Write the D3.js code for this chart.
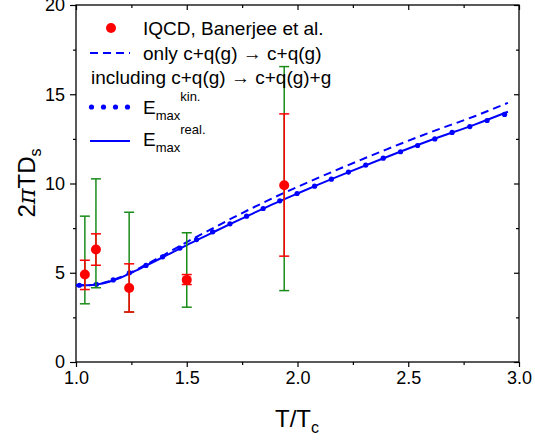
<!DOCTYPE html>
<meta charset="utf-8">

<!-- Load d3.js -->
<script src="https://d3js.org/d3.v7.min.js"></script>

<style>
  body { margin: 0; background: #fff; }
  text { font-family: Arial, "Liberation Sans", Helvetica, sans-serif; }
</style>

<!-- Create a div where the graph will take place -->
<div id="chart"></div>

<script>
// ---- data ----
// IQCD points (Banerjee et al.)
var lqcdT    = [1.04, 1.09, 1.24, 1.50, 1.94];
var lqcdVal  = [4.90, 6.30, 4.15, 4.60, 9.90];
var statLo   = [4.06, 5.42, 2.80, 4.34, 5.93];
var statHi   = [5.70, 7.18, 5.50, 4.90, 13.90];
var sysLo    = [3.26, 4.16, 2.80, 3.07, 4.00];
var sysHi    = [8.17, 10.26, 8.39, 7.24, 16.55];

// curves
var curveT      = [1.0, 1.05, 1.1, 1.15, 1.2, 1.25, 1.3, 1.4, 1.5, 1.6, 1.7, 1.8, 1.9, 2.0, 2.2, 2.4, 2.6, 2.8, 2.95];
var elasticVal  = [4.3, 4.3, 4.37, 4.52, 4.75, 5.03, 5.35, 6.02, 6.72, 7.37, 8.03, 8.65, 9.25, 9.81, 10.88, 11.9, 12.87, 13.77, 14.52];
var realVal     = [4.3, 4.3, 4.36, 4.5, 4.72, 5.0, 5.3, 5.92, 6.55, 7.15, 7.75, 8.33, 8.9, 9.44, 10.48, 11.47, 12.42, 13.3, 14.02];
var kinT        = [1.015, 1.092, 1.168, 1.241, 1.316, 1.391, 1.469, 1.544, 1.617, 1.695, 1.77, 1.845, 1.92, 1.998,
                   2.077, 2.153, 2.23, 2.308, 2.387, 2.465, 2.542, 2.62, 2.698, 2.778, 2.856, 2.935];
var kinVal      = [4.3, 4.35, 4.6, 5.0, 5.41, 5.89, 6.38, 6.86, 7.29, 7.74, 8.17, 8.6, 9.03, 9.44,
                   9.85, 10.24, 10.64, 11.03, 11.42, 11.78, 12.13, 12.5, 12.86, 13.19, 13.53, 13.87];

// axis ticks
var xTicks = [1.0, 1.5, 2.0, 2.5, 3.0];
var xMinor = [1.25, 1.75, 2.25, 2.75];
var yTicks = [0, 5, 10, 15, 20];
var yMinor = [2.5, 7.5, 12.5, 17.5];

var W = 535, H = 442;
var svg = d3.select("#chart").append("svg")
    .attr("width", W)
    .attr("height", H);

var x = d3.scaleLinear().domain([1, 3]).range([76, 519]);
var y = d3.scaleLinear().domain([0, 20]).range([362, 5]);

var blue = "#0000ff", red = "#ff0000", green = "#1a8c1a";

// ---- axes ----
function styleAxis(g) {
  g.select(".domain").remove();
  g.selectAll("line").attr("stroke", "#000").attr("stroke-width", 1.2);
  g.selectAll("text").attr("font-size", 18).attr("fill", "#000");
}

// bottom
svg.append("g").attr("transform", "translate(0," + y(0) + ")")
  .call(d3.axisBottom(x).tickValues(xTicks).tickFormat(d3.format(".1f")).tickSize(5).tickPadding(4))
  .call(styleAxis);
svg.append("g").attr("transform", "translate(0," + y(0) + ")")
  .call(d3.axisBottom(x).tickValues(xMinor).tickFormat("").tickSize(3))
  .call(styleAxis);
// left
svg.append("g").attr("transform", "translate(" + x(1) + ",0)")
  .call(d3.axisLeft(y).tickValues(yTicks).tickFormat(d3.format("d")).tickSize(6).tickPadding(5))
  .call(styleAxis);
svg.append("g").attr("transform", "translate(" + x(1) + ",0)")
  .call(d3.axisLeft(y).tickValues(yMinor).tickFormat("").tickSize(3))
  .call(styleAxis);
// top (inward)
svg.append("g").attr("transform", "translate(0," + y(20) + ")")
  .call(d3.axisBottom(x).tickValues(xTicks).tickFormat("").tickSize(5))
  .call(styleAxis);
svg.append("g").attr("transform", "translate(0," + y(20) + ")")
  .call(d3.axisBottom(x).tickValues(xMinor).tickFormat("").tickSize(3))
  .call(styleAxis);
// right (inward)
svg.append("g").attr("transform", "translate(" + x(3) + ",0)")
  .call(d3.axisLeft(y).tickValues(yTicks).tickFormat("").tickSize(5))
  .call(styleAxis);
svg.append("g").attr("transform", "translate(" + x(3) + ",0)")
  .call(d3.axisLeft(y).tickValues(yMinor).tickFormat("").tickSize(3))
  .call(styleAxis);

// frame
svg.append("rect")
  .attr("x", x(1)).attr("y", y(20))
  .attr("width", x(3) - x(1)).attr("height", y(0) - y(20))
  .attr("fill", "none").attr("stroke", "#000").attr("stroke-width", 1.3);

// ---- axis titles ----
svg.append("text")
  .attr("x", 297).attr("y", 427)
  .attr("text-anchor", "middle")
  .attr("font-size", 24)
  .text("T/T")
  .append("tspan").attr("font-size", 16).attr("dy", 6).text("c");

var yl = svg.append("text")
  .attr("transform", "translate(35,183) rotate(-90)")
  .attr("text-anchor", "middle")
  .attr("font-size", 24);
yl.append("tspan").text("2");
yl.append("tspan").attr("font-style", "italic").attr("font-family", "'DejaVu Serif', serif").text("π");
yl.append("tspan").text("TD");
yl.append("tspan").attr("font-size", 16).attr("dy", 6).text("s");

// ---- curves ----
var line = d3.line()
  .x(function(d) { return x(d[0]); })
  .y(function(d) { return y(d[1]); })
  .curve(d3.curveMonotoneX);

svg.append("path")
  .datum(d3.zip(curveT, elasticVal))
  .attr("d", line)
  .attr("fill", "none").attr("stroke", blue).attr("stroke-width", 2)
  .attr("stroke-dasharray", "8,5");

svg.append("path")
  .datum(d3.zip(curveT, realVal))
  .attr("d", line)
  .attr("fill", "none").attr("stroke", blue).attr("stroke-width", 2);

svg.selectAll(".kin")
  .data(d3.zip(kinT, kinVal))
  .enter().append("circle")
    .attr("class", "kin")
    .attr("cx", function(d) { return x(d[0]); })
    .attr("cy", function(d) { return y(d[1]); })
    .attr("r", 2.6)
    .attr("fill", blue);

// ---- error bars + points ----
var pts = lqcdT.map(function(t, i) {
  return { t: t, v: lqcdVal[i], sLo: statLo[i], sHi: statHi[i], yLo: sysLo[i], yHi: sysHi[i] };
});

function errBar(lo, hi, col) {
  var g = svg.append("g");
  pts.forEach(function(d) {
    var cx = x(d.t);
    g.append("line").attr("x1", cx).attr("x2", cx).attr("y1", y(d[lo])).attr("y2", y(d[hi]))
      .attr("stroke", col).attr("stroke-width", 1.5);
    [d[lo], d[hi]].forEach(function(v) {
      g.append("line").attr("x1", cx - 5).attr("x2", cx + 5).attr("y1", y(v)).attr("y2", y(v))
        .attr("stroke", col).attr("stroke-width", 1.5);
    });
  });
}
errBar("yLo", "yHi", green);
errBar("sLo", "sHi", red);

svg.selectAll(".pt")
  .data(pts)
  .enter().append("circle")
    .attr("class", "pt")
    .attr("cx", function(d) { return x(d.t); })
    .attr("cy", function(d) { return y(d.v); })
    .attr("r", 5)
    .attr("fill", red);

// ---- legend ----
var lx0 = 90, lx1 = 130, tx = 143;
svg.append("circle").attr("cx", 111).attr("cy", 28).attr("r", 5).attr("fill", red);
svg.append("text").attr("x", tx).attr("y", 35).attr("font-size", 19).text("IQCD, Banerjee et al.");

svg.append("line").attr("x1", lx0).attr("x2", lx1).attr("y1", 53).attr("y2", 53)
  .attr("stroke", blue).attr("stroke-width", 2).attr("stroke-dasharray", "8,5");
svg.append("text").attr("x", tx).attr("y", 60).attr("font-size", 19).text("only c+q(g) \u2192 c+q(g)");

svg.append("text").attr("x", 91).attr("y", 84).attr("font-size", 19).text("including c+q(g) \u2192 c+q(g)+g");

[91.5, 103.5, 115.5, 127.5].forEach(function(cx) {
  svg.append("circle").attr("cx", cx).attr("cy", 107).attr("r", 2.6).attr("fill", blue);
});
var e1 = svg.append("text").attr("x", tx).attr("y", 114).attr("font-size", 19);
e1.append("tspan").text("E");
e1.append("tspan").attr("font-size", 13).attr("dy", 6).text("max");
e1.append("tspan").attr("font-size", 13).attr("dy", -19).text("kin.");

svg.append("line").attr("x1", lx0).attr("x2", lx1).attr("y1", 141).attr("y2", 141)
  .attr("stroke", blue).attr("stroke-width", 2);
var e2 = svg.append("text").attr("x", tx).attr("y", 146).attr("font-size", 19);
e2.append("tspan").text("E");
e2.append("tspan").attr("font-size", 13).attr("dy", 6).text("max");
e2.append("tspan").attr("font-size", 13).attr("dy", -18).text("real.");
</script>
